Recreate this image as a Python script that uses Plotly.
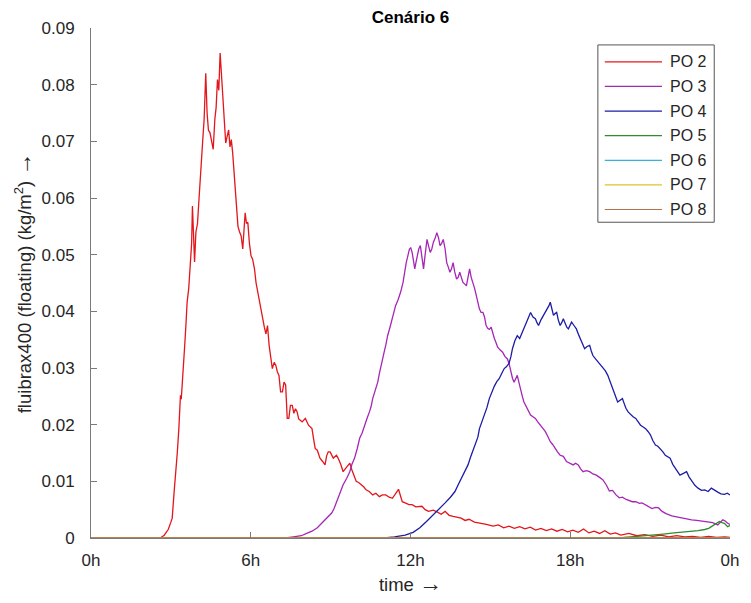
import plotly.graph_objects as go

# ---- data (time in hours, value in kg/m2) ----
names = ["PO 2", "PO 3", "PO 4", "PO 5", "PO 6", "PO 7", "PO 8"]
colors = ["#e3161b", "#a626b6", "#1c1ca8", "#2e8b2e", "#33b5d9", "#dcc32a", "#b8704a"]

t_po2 = [0.0, 2.6, 2.75, 2.9, 3.0, 3.05, 3.12, 3.17, 3.24, 3.3, 3.36, 3.39, 3.42, 3.47, 3.52, 3.57,
         3.61, 3.67, 3.73, 3.78, 3.81, 3.85, 3.89, 3.94, 4.0, 4.04, 4.1, 4.15, 4.19, 4.25, 4.31, 4.36,
         4.41, 4.47, 4.53, 4.59, 4.65, 4.7, 4.75, 4.8, 4.85, 4.9, 4.96, 5.0, 5.06, 5.12, 5.17, 5.22,
         5.27, 5.32, 5.37, 5.42, 5.46, 5.52, 5.58, 5.64, 5.7, 5.75, 5.79, 5.84, 5.89, 5.95, 6.01, 6.07,
         6.14, 6.2, 6.26, 6.32, 6.38, 6.45, 6.51, 6.57, 6.63, 6.69, 6.75, 6.81, 6.88, 6.94, 7.0, 7.06,
         7.12, 7.19, 7.25, 7.31, 7.37, 7.43, 7.49, 7.56, 7.62, 7.68, 7.74, 7.8, 7.93, 8.05, 8.17, 8.3,
         8.36, 8.42, 8.5, 8.6, 8.7, 8.79, 8.85, 8.91, 8.98, 9.1, 9.22, 9.28, 9.38, 9.47, 9.6, 9.72,
         9.8, 9.9, 9.96, 10.05, 10.15, 10.25, 10.33, 10.45, 10.58, 10.7, 10.83, 10.95, 11.07, 11.2,
         11.32, 11.45, 11.55, 11.62, 11.69, 11.8, 11.94, 12.06, 12.2, 12.43, 12.55, 12.68, 12.85, 13.0,
         13.15, 13.3, 13.45, 13.6, 13.75, 13.9, 14.05, 14.2, 14.4, 14.65, 14.85, 15.1, 15.3, 15.5,
         15.7, 15.9, 16.1, 16.3, 16.5, 16.7, 16.9, 17.1, 17.3, 17.5, 17.7, 17.9, 18.1, 18.3, 18.5,
         18.7, 18.9, 19.1, 19.3, 19.5, 19.7, 19.9, 20.2, 20.5, 20.8, 21.1, 21.4, 21.7, 22.0, 22.3,
         22.6, 22.9, 23.2, 23.5, 23.8, 24.0]
v_po2 = [0.0, 0.0, 0.0005, 0.0015, 0.0028, 0.0035, 0.008, 0.0105, 0.015, 0.0193, 0.0252, 0.0245,
         0.0264, 0.030, 0.034, 0.038, 0.0416, 0.044, 0.0487, 0.052, 0.0586, 0.052, 0.0487, 0.054,
         0.0555, 0.0586, 0.0639, 0.066, 0.0697, 0.074, 0.082, 0.075, 0.072, 0.0715, 0.0697, 0.0686,
         0.0738, 0.076, 0.0809, 0.079, 0.0856, 0.082, 0.0779, 0.076, 0.0697, 0.071, 0.072, 0.069,
         0.0703, 0.068, 0.065, 0.062, 0.0592, 0.055, 0.054, 0.0533, 0.051, 0.055, 0.0574, 0.0555,
         0.0557, 0.052, 0.0498, 0.0492, 0.0475, 0.045, 0.0434, 0.042, 0.0402, 0.039, 0.0372, 0.036,
         0.0375, 0.034, 0.0314, 0.0299, 0.031, 0.0305, 0.0293, 0.0287, 0.0258, 0.0258, 0.0275, 0.027,
         0.0211, 0.0211, 0.0234, 0.0234, 0.022, 0.0228, 0.0223, 0.021, 0.0205, 0.0211, 0.0199, 0.0193,
         0.0175, 0.0158, 0.0155, 0.0141, 0.0135, 0.0129, 0.0145, 0.0152, 0.0152, 0.0141, 0.0146,
         0.0141, 0.013, 0.0117, 0.0125, 0.0132, 0.012, 0.0105, 0.0100, 0.0098, 0.0094, 0.009, 0.0085,
         0.0082, 0.0076, 0.0079, 0.0073, 0.0076, 0.0076, 0.0072, 0.0070, 0.0078, 0.0086, 0.0075,
         0.0064, 0.0062, 0.0059, 0.0059, 0.0055, 0.0056, 0.005, 0.0047, 0.0049, 0.0046, 0.0042,
         0.0047, 0.0040, 0.0038, 0.0036, 0.0035, 0.0031, 0.0033, 0.0028, 0.0026, 0.0024, 0.0021,
         0.0023, 0.0018, 0.0021, 0.0017, 0.0020, 0.0016, 0.0019, 0.0014, 0.0017, 0.0013, 0.0016,
         0.0012, 0.0015, 0.0011, 0.0014, 0.0010, 0.0016, 0.0009, 0.0012, 0.0008, 0.0013, 0.0007,
         0.0009, 0.0005, 0.0008, 0.0004, 0.0006, 0.0003, 0.0005, 0.0002, 0.0004, 0.0002, 0.0003,
         0.0001, 0.0003, 0.0001, 0.0002, 0.0001]

t_po3 = [0.0, 7.3, 7.6, 7.9, 8.1, 8.3, 8.5, 8.65, 8.8, 8.92, 9.04, 9.13, 9.22, 9.35, 9.47, 9.6,
         9.72, 9.8, 9.9, 10.0, 10.09, 10.18, 10.27, 10.36, 10.46, 10.52, 10.58, 10.68, 10.77, 10.83,
         10.89, 10.95, 11.01, 11.08, 11.14, 11.23, 11.32, 11.38, 11.44, 11.53, 11.63, 11.72, 11.78,
         11.84, 11.9, 11.96, 12.01, 12.06, 12.11, 12.16, 12.2, 12.25, 12.31, 12.37, 12.43, 12.49,
         12.55, 12.62, 12.68, 12.74, 12.8, 12.86, 12.93, 12.99, 13.05, 13.11, 13.17, 13.23, 13.3,
         13.36, 13.42, 13.48, 13.54, 13.6, 13.66, 13.73, 13.79, 13.85, 13.91, 13.97, 14.04, 14.1,
         14.16, 14.22, 14.28, 14.35, 14.41, 14.47, 14.53, 14.59, 14.65, 14.72, 14.78, 14.84, 14.9,
         14.96, 15.03, 15.09, 15.15, 15.21, 15.27, 15.36, 15.46, 15.55, 15.64, 15.7, 15.77, 15.83,
         15.89, 15.95, 16.01, 16.07, 16.14, 16.2, 16.26, 16.32, 16.38, 16.45, 16.51, 16.6, 16.69,
         16.78, 16.88, 16.97, 17.06, 17.15, 17.25, 17.34, 17.43, 17.52, 17.62, 17.74, 17.86, 17.98,
         18.11, 18.2, 18.3, 18.39, 18.48, 18.6, 18.73, 18.85, 18.98, 19.1, 19.22, 19.35, 19.47,
         19.59, 19.72, 19.84, 19.96, 20.1, 20.2, 20.33, 20.46, 20.6, 20.7, 20.83, 20.95, 21.07,
         21.2, 21.32, 21.45, 21.6, 21.81, 22.0, 22.2, 22.4, 22.56, 22.75, 22.95, 23.17, 23.35,
         23.54, 23.65, 23.73, 23.82, 23.91, 24.0]
v_po3 = [0.0, 0.0, 0.0002, 0.0004, 0.0008, 0.0012, 0.0018, 0.0025, 0.0032, 0.0038, 0.0044, 0.0052,
         0.0064, 0.0078, 0.0094, 0.0105, 0.0117, 0.013, 0.0141, 0.0158, 0.0176, 0.0185, 0.0199,
         0.021, 0.0223, 0.0232, 0.0246, 0.026, 0.0275, 0.029, 0.0305, 0.0315, 0.0328, 0.0342,
         0.0357, 0.0372, 0.0387, 0.040, 0.0410, 0.042, 0.0434, 0.0451, 0.047, 0.0486, 0.0498,
         0.0510, 0.0512, 0.0504, 0.049, 0.0475, 0.0485, 0.0498, 0.051, 0.0516, 0.0495, 0.0475,
         0.050, 0.0527, 0.0515, 0.0504, 0.051, 0.0522, 0.053, 0.0539, 0.053, 0.0516, 0.052, 0.0527,
         0.051, 0.0486, 0.0478, 0.0469, 0.0475, 0.0486, 0.047, 0.0457, 0.046, 0.0469, 0.046, 0.0451,
         0.0448, 0.0445, 0.046, 0.0475, 0.046, 0.0451, 0.044, 0.0428, 0.0416, 0.0404, 0.0398,
         0.0398, 0.039, 0.0375, 0.037, 0.0368, 0.0372, 0.036, 0.0352, 0.0345, 0.0337, 0.0332,
         0.0328, 0.032, 0.0316, 0.0308, 0.029, 0.0282, 0.0275, 0.028, 0.0287, 0.0275, 0.0264,
         0.025, 0.024, 0.0235, 0.0229, 0.0222, 0.0217, 0.0214, 0.0211, 0.0205, 0.0199, 0.0193,
         0.0188, 0.018, 0.0170, 0.0165, 0.0158, 0.0152, 0.0146, 0.0144, 0.0135, 0.0132, 0.0129,
         0.0132, 0.0129, 0.0122, 0.0117, 0.0119, 0.0117, 0.0113, 0.0111, 0.0107, 0.0103, 0.0094,
         0.0083, 0.0084, 0.0076, 0.0071, 0.0072, 0.0068, 0.0066, 0.0064, 0.0064, 0.0061, 0.0062,
         0.0058, 0.0055, 0.0052, 0.0054, 0.0053, 0.0047, 0.0043, 0.0039, 0.0037, 0.0035, 0.0034,
         0.0032, 0.0031, 0.003, 0.0029, 0.0027, 0.0023, 0.0028, 0.0032, 0.003, 0.0026, 0.0024]

t_po4 = [0.0, 11.0, 11.4, 11.8, 12.1, 12.35, 12.6, 12.8, 12.99, 13.15, 13.3, 13.5, 13.67, 13.8,
         13.95, 14.05, 14.16, 14.25, 14.35, 14.45, 14.53, 14.59, 14.68, 14.78, 14.87, 14.96, 15.05,
         15.15, 15.24, 15.33, 15.42, 15.52, 15.6, 15.7, 15.77, 15.83, 15.92, 16.01, 16.1, 16.2,
         16.29, 16.38, 16.45, 16.51, 16.6, 16.69, 16.75, 16.81, 16.9, 17.0, 17.08, 17.15, 17.2,
         17.25, 17.31, 17.37, 17.43, 17.49, 17.55, 17.62, 17.68, 17.74, 17.8, 17.87, 17.93, 17.99,
         18.05, 18.14, 18.23, 18.32, 18.42, 18.48, 18.54, 18.63, 18.73, 18.79, 18.85, 18.95, 19.04,
         19.13, 19.22, 19.32, 19.41, 19.5, 19.59, 19.68, 19.78, 19.87, 19.96, 20.02, 20.09, 20.18,
         20.27, 20.36, 20.46, 20.55, 20.64, 20.74, 20.83, 20.92, 21.01, 21.1, 21.2, 21.29, 21.38,
         21.48, 21.57, 21.66, 21.75, 21.85, 21.94, 22.03, 22.12, 22.25, 22.37, 22.46, 22.56, 22.68,
         22.8, 22.93, 23.05, 23.18, 23.3, 23.42, 23.54, 23.66, 23.79, 23.9, 24.0]
v_po4 = [0.0, 0.0, 0.0002, 0.0005, 0.001, 0.0018, 0.0029, 0.0038, 0.0047, 0.0055, 0.0062, 0.0072,
         0.0082, 0.0095, 0.011, 0.012, 0.0129, 0.0142, 0.0155, 0.0168, 0.0178, 0.0193, 0.0205,
         0.0217, 0.023, 0.0246, 0.0258, 0.0268, 0.0276, 0.0281, 0.029, 0.0299, 0.0302, 0.0308,
         0.032, 0.0334, 0.0348, 0.0357, 0.0352, 0.0363, 0.0372, 0.0381, 0.039, 0.0398, 0.039,
         0.0387, 0.038, 0.0375, 0.0385, 0.0393, 0.0398, 0.0404, 0.041, 0.0416, 0.0405, 0.0393,
         0.0396, 0.0398, 0.0385, 0.0375, 0.038, 0.0387, 0.038, 0.0372, 0.0369, 0.0375, 0.0381,
         0.0375, 0.0369, 0.0358, 0.0346, 0.034, 0.0334, 0.0338, 0.034, 0.033, 0.0322, 0.0316,
         0.0311, 0.0305, 0.0299, 0.0295, 0.0287, 0.0275, 0.0264, 0.0252, 0.024, 0.0243, 0.0246,
         0.0238, 0.0229, 0.0222, 0.0217, 0.0214, 0.0211, 0.0205, 0.0199, 0.0196, 0.0193, 0.0188,
         0.0182, 0.0172, 0.0164, 0.0162, 0.0158, 0.0152, 0.0146, 0.0143, 0.0141, 0.013, 0.0123,
         0.0117, 0.0111, 0.0114, 0.0117, 0.0108, 0.0100, 0.0093, 0.0088, 0.0084, 0.0085, 0.0082,
         0.0088, 0.0084, 0.0081, 0.0078, 0.0077, 0.0079, 0.0076]

t_po5 = [0.0, 19.5, 20.0, 20.5, 21.07, 21.5, 21.9, 22.2, 22.56, 22.8, 23.05, 23.2, 23.3, 23.45,
         23.6, 23.7, 23.79, 23.91, 24.0]
v_po5 = [0.0, 0.0, 0.0001, 0.0003, 0.0006, 0.0007, 0.0009, 0.001, 0.0012, 0.0013, 0.0015, 0.0017,
         0.002, 0.0024, 0.0029, 0.0027, 0.0026, 0.002, 0.0022]

t_po6 = [0.0, 24.0]
v_po6 = [0.0, 0.0]
t_po7 = [0.0, 24.0]
v_po7 = [0.0, 0.0]
t_po8 = [0.0, 24.0]
v_po8 = [0.0, 0.0]

x_ticks = [0, 6, 12, 18, 24]
x_labels = ["0h", "6h", "12h", "18h", "0h"]
y_ticks = [0, 0.01, 0.02, 0.03, 0.04, 0.05, 0.06, 0.07, 0.08, 0.09]
y_labels = ["0", "0.01", "0.02", "0.03", "0.04", "0.05", "0.06", "0.07", "0.08", "0.09"]

series = [(t_po2, v_po2), (t_po3, v_po3), (t_po4, v_po4), (t_po5, v_po5),
          (t_po6, v_po6), (t_po7, v_po7), (t_po8, v_po8)]

W, H = 751, 603
L, R, T, B = 91, 12, 28, 63
FONT = "Liberation Sans, Arial, Helvetica, sans-serif"
AXC = "#7a7a7a"
ARROW = "<span style='font-size:23px'>→</span>"


def px_x(p):
    return (p - L) / (W - L - R)


def px_y(p):
    return (H - B - p) / (H - T - B)


fig = go.Figure()
for (t, v), n, c in zip(series, names, colors):
    fig.add_trace(go.Scatter(x=t, y=v, mode="lines", name=n,
                             line=dict(color=c, width=1.3), showlegend=False))

# legend box drawn by hand so the entry spacing matches
shapes = [dict(type="rect", xref="paper", yref="paper",
               x0=px_x(605), x1=px_x(723), y0=px_y(223), y1=px_y(45),
               line=dict(color="#555555", width=1), fillcolor="white", layer="above")]
annotations = []
for i, (n, c) in enumerate(zip(names, colors)):
    yy = 62 + 24.7 * i
    shapes.append(dict(type="line", xref="paper", yref="paper",
                       x0=px_x(612), x1=px_x(670), y0=px_y(yy), y1=px_y(yy),
                       line=dict(color=c, width=1.2), layer="above"))
    annotations.append(dict(xref="paper", yref="paper", x=px_x(676), y=px_y(yy),
                            text=n, showarrow=False, xanchor="left", yanchor="middle",
                            font=dict(family=FONT, size=16, color="#262626")))

fig.update_layout(
    width=W, height=H,
    margin=dict(l=L, r=R, t=T, b=B),
    paper_bgcolor="white", plot_bgcolor="white",
    font=dict(family=FONT, size=17, color="#262626"),
    title=dict(text="<b>Cenário 6</b>", xref="paper", x=0.5, xanchor="center",
               y=1 - 17 / H, yanchor="middle", yref="container",
               font=dict(family=FONT, size=17, color="#000000")),
    shapes=shapes, annotations=annotations,
)
fig.update_xaxes(range=[0, 24], tickvals=x_ticks, ticktext=x_labels,
                 showgrid=False, zeroline=False, showline=True, linecolor=AXC, linewidth=1,
                 ticks="inside", ticklen=6, tickcolor=AXC, ticklabelstandoff=7,
                 title=dict(text="time " + ARROW, standoff=8, font=dict(size=18.5)))
fig.update_yaxes(range=[0, 0.09], tickvals=y_ticks, ticktext=y_labels,
                 showgrid=False, zeroline=False, showline=True, linecolor=AXC, linewidth=1,
                 ticks="inside", ticklen=6, tickcolor=AXC, ticklabelstandoff=12,
                 title=dict(text="fluibrax400 (floating) (kg/m<sup>2</sup>) " + ARROW, standoff=5,
                            font=dict(size=18.5)))

# the page body has a default 8px margin; drop it so the figure sits at the window corner
fig.write_html("out.html", config={"displayModeBar": False},
               post_script="document.body.style.margin='0';document.body.style.overflow='hidden';")
